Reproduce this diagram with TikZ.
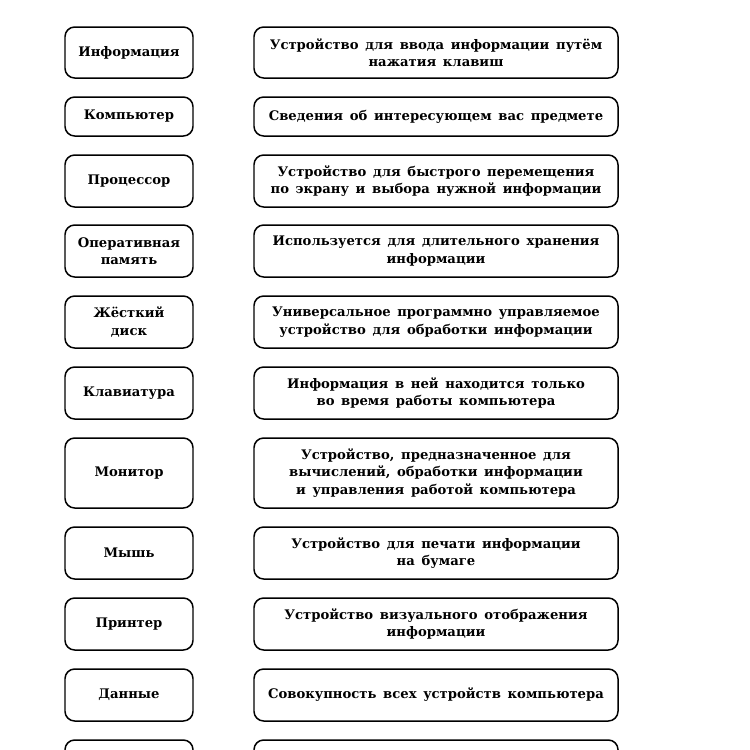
\documentclass[tikz,border=0pt]{standalone}
\usepackage{fontspec}
\setmainfont{DejaVu Serif}[WordSpace=1.45]
\usetikzlibrary{positioning}

\begin{document}
\begin{tikzpicture}[
            term/.style={rectangle, draw, rounded corners=5.5pt, line width=0.85pt, minimum width=2.56cm, align=center, font=\bfseries\fontsize{7.5}{10}\selectfont},
            defn/.style={rectangle, draw, rounded corners=5.5pt, line width=0.85pt, minimum width=7.28cm, align=center, font=\bfseries\fontsize{7.5}{10}\selectfont}
        ]
            \useasboundingbox (0,0) rectangle (15,-15);
            \clip (0,0) rectangle (15,-15);
            \foreach \y/\h/\name/\lab/\txt in {
                -1.05/1.02/r1/{Информация}/{Устройство для ввода информации путём\\нажатия клавиш},
                -2.33/0.78/r2/{Компьютер}/{Сведения об интересующем вас предмете},
                -3.62/1.04/r3/{Процессор}/{Устройство для быстрого перемещения\\по экрану и выбора нужной информации},
                -5.02/1.04/r4/{Оперативная\\память}/{Используется для длительного хранения\\информации},
                -6.44/1.04/r5/{Жёсткий\\диск}/{Универсальное программно управляемое\\устройство для обработки информации},
                -7.86/1.04/r6/{Клавиатура}/{Информация в ней находится только\\во время работы компьютера},
                -9.46/1.40/r7/{Монитор}/{Устройство, предназначенное для\\вычислений, обработки информации\\и управления работой компьютера},
                -11.06/1.04/r8/{Мышь}/{Устройство для печати информации\\на бумаге},
                -12.48/1.04/r9/{Принтер}/{Устройство визуального отображения\\информации},
                -13.90/1.04/r10/{Данные}/{Совокупность всех устройств компьютера},
                -15.32/1.04/r11/{}/{}} {
                \node[term, minimum height=\h cm] (\name term) at (2.58,\y) {\lab};
                \node[defn, minimum height=\h cm] (\name defn) at (8.72,\y) {\txt};
            }
        \end{tikzpicture}
\end{document}
